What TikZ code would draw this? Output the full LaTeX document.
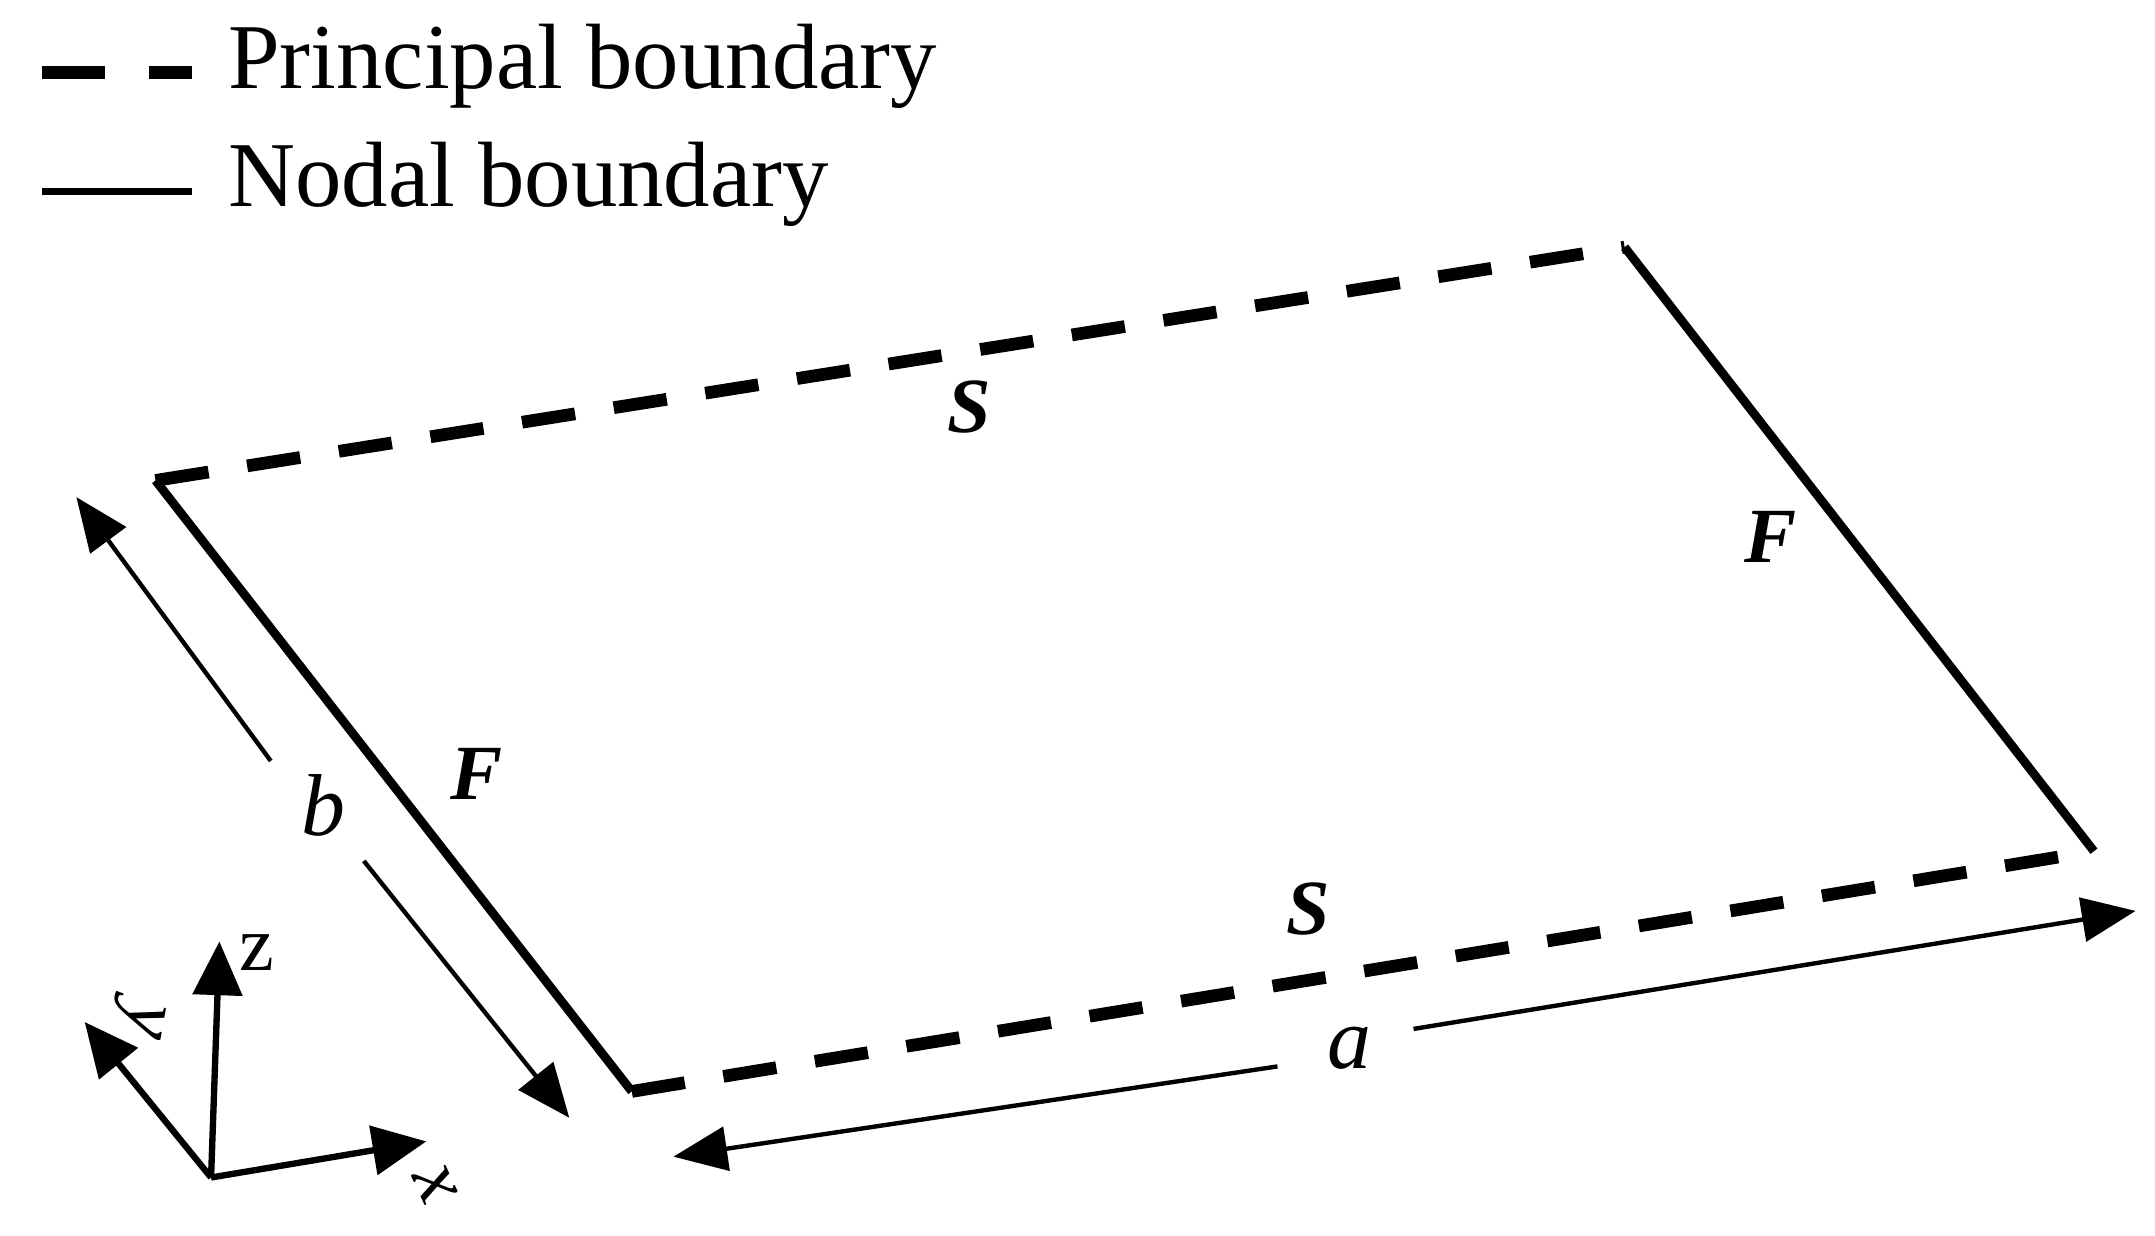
\documentclass[tikz,border=0pt]{standalone}
\usepackage{fontspec}
\setmainfont{Liberation Serif}
\usetikzlibrary{arrows.meta}
\begin{document}
\begin{tikzpicture}[x=0.01cm,y=-0.01cm,
  prin/.style={line width=2.6pt,dash pattern=on 11pt off 8pt},
  nodal/.style={line width=1.3pt},
  dim/.style={line width=0.9pt,-{Triangle[length=11pt,width=9pt]}},
  ax/.style={line width=1.3pt,-{Triangle[length=11pt,width=10pt]}},
  lab/.style={font=\fontsize{16}{20}\selectfont\bfseries\itshape},
  txt/.style={font=\fontsize{19}{22}\selectfont,anchor=west}]
\useasboundingbox (0,0) rectangle (1552,890);
% legend
\coordinate (l1a) at (30,52); \coordinate (l1b) at (138,52);
\coordinate (l2a) at (30,138); \coordinate (l2b) at (138,138);
\draw[line width=2.6pt,dash pattern=on 13pt off 9pt] (l1a) -- (l1b);
\draw[nodal] (l2a) -- (l2b);
\node[txt] (t1) at (152,48) {Principal boundary};
\node[txt] (t2) at (152,133) {Nodal boundary};
% plate
\coordinate (TL) at (112,346); \coordinate (TR) at (1170,178);
\coordinate (BR) at (1508,613); \coordinate (BL) at (455,786);
\draw[prin] (TL) -- (TR);
\draw[prin] (BL) -- (BR);
\draw[nodal,line width=1.8pt] (TL) -- (BL);
\draw[nodal,line width=1.8pt] (TR) -- (BR);
\node[lab] (s1) at (698,293) {S};
\node[lab] (f1) at (1275,387) {F};
\node[lab] (f2) at (343,557) {F};
\node[lab] (s2) at (942,655) {S};
% dimensions
\coordinate (b1) at (195,548); \coordinate (b2) at (55,358);
\coordinate (b3) at (262,620); \coordinate (b4) at (410,805);
\draw[dim] (b1) -- (b2);
\draw[dim] (b3) -- (b4);
\node[font=\fontsize{18}{22}\selectfont\itshape] (b) at (233,580) {b};
\coordinate (a1) at (920,768); \coordinate (a2) at (485,833);
\coordinate (a3) at (1018,741); \coordinate (a4) at (1538,656);
\draw[dim] (a1) -- (a2);
\draw[dim] (a3) -- (a4);
\node[font=\fontsize{18}{22}\selectfont\itshape] (a) at (972,755) {a};
% axes
\coordinate (O) at (152,848);
\coordinate (Z) at (158,678); \coordinate (Y) at (61,736); \coordinate (X) at (307,822);
\draw[ax] (O) -- (Z);
\draw[ax] (O) -- (Y);
\draw[ax] (O) -- (X);
\node[font=\fontsize{16}{20}\selectfont] (zl) at (185,686) {z};
\node[font=\fontsize{16}{20}\selectfont\itshape,rotate=-100] (yl) at (99,734) {y};
\node[font=\fontsize{16}{20}\selectfont\itshape,rotate=-65] (xl) at (313,853) {x};
\end{tikzpicture}
\end{document}
